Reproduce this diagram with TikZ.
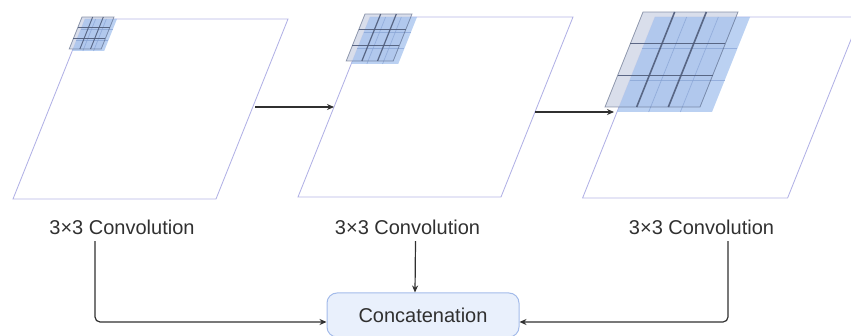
\documentclass[tikz,border=0pt]{standalone}
\usepackage{fontspec}
\setmainfont{Liberation Sans}
\usetikzlibrary{arrows.meta}

\definecolor{sheet}{HTML}{B4B4E6}
\definecolor{ink}{HTML}{303030}
\definecolor{kgray}{HTML}{D2D8E8}
\definecolor{kline}{HTML}{4E5B7A}
\definecolor{kblue}{HTML}{A4C2EE}
\definecolor{kblueline}{HTML}{86A2D4}
\definecolor{boxfill}{HTML}{E9F0FC}
\definecolor{boxline}{HTML}{A3BBEA}

\tikzset{
  sheetbox/.style={draw=sheet, line width=0.9pt},
  flow/.style={draw=ink, line width=1.5pt, -{Stealth[length=7pt,width=6pt]}},
  conn/.style={draw=ink, line width=1.2pt, rounded corners=5pt, -{Stealth[length=7pt,width=6pt]}},
  convtext/.style={text=ink, font=\fontsize{20}{24}\selectfont, inner sep=6pt},
  concatbox/.style={draw=boxline, fill=boxfill, line width=1pt, rounded corners=10pt,
    minimum width=192pt, minimum height=44pt, text=ink, font=\fontsize{20}{24}\selectfont},
}

% a feature map: slanted sheet with its top-left corner at (#1,#2)
\newcommand\featuresheet[4]{% #1,#2 corner, #3 width, #4 height
  \begin{scope}[shift={(#1,#2)}, xslant=0.4]
    \draw[sheetbox] (0,0) rectangle (#3,#4);
  \end{scope}}

% a 3x3 kernel: blue layer at (#1,#2), grey layer at (#3,#4), side #5, line width #6
\newcommand\kernelgrid[6]{%
  \begin{scope}[shift={(#3,#4)}, xslant=0.4]
    \fill[kgray, fill opacity=0.85] (0,0) rectangle (#5,#5);
  \end{scope}
  \begin{scope}[shift={(#1,#2)}, xslant=0.4]
    \fill[kblue, fill opacity=0.75] (0,0) rectangle (#5,#5);
    \foreach \k in {1,2} {
      \draw[kblueline, line width=0.7pt, draw opacity=0.7] ({\k*#5/3},0) -- ({\k*#5/3},#5);
      \draw[kblueline, line width=0.7pt, draw opacity=0.7] (0,{\k*#5/3}) -- (#5,{\k*#5/3});
    }
  \end{scope}
  \begin{scope}[shift={(#3,#4)}, xslant=0.4]
    \draw[kline, line width=0.8pt, draw opacity=0.6] (0,0) rectangle (#5,#5);
    \foreach \k in {1,2} {
      \draw[kline, line width=#6, draw opacity=0.9] ({\k*#5/3},0) -- ({\k*#5/3},#5);
      \draw[kline, line width=#6, draw opacity=0.9] (0,{\k*#5/3}) -- (#5,{\k*#5/3});
    }
  \end{scope}}

\begin{document}
\begin{tikzpicture}[x=1pt, y=-1pt]
  \useasboundingbox (0,0) rectangle (851,336);

  % feature maps
  \featuresheet{85}{19}{203}{180}
  \featuresheet{370}{17}{203}{180}
  \featuresheet{655}{17}{205}{181}

  % kernels growing from map to map
  \kernelgrid{85}{19}{82}{17}{32}{0.9pt}
  \kernelgrid{370}{17}{365}{14}{47}{1.2pt}
  \kernelgrid{655}{17}{643}{12}{95}{1.6pt}

  % arrows between maps
  \coordinate (m1out) at (255,107);
  \coordinate (m2in)  at (334,107);
  \coordinate (m2out) at (535,112);
  \coordinate (m3in)  at (614,112);
  \draw[flow] (m1out) -- (m2in);
  \draw[flow] (m2out) -- (m3in);

  % labels
  \node[convtext] (c1) at (122,227.5) {3×3 Convolution};
  \node[convtext] (c2) at (407.5,227.5) {3×3 Convolution};
  \node[convtext] (c3) at (701.5,227.5) {3×3 Convolution};

  \node[concatbox] (concat) at (423,315) {Concatenation};

  % outputs gathered into the concatenation
  \draw[conn] ([xshift=-27pt]c1.south) |- ([yshift=-7pt]concat.west);
  \draw[conn] ([xshift=8pt]c2.south) -- ([xshift=-8pt]concat.north);
  \draw[conn] ([xshift=26.5pt]c3.south) |- ([yshift=-7pt]concat.east);
\end{tikzpicture}
\end{document}
